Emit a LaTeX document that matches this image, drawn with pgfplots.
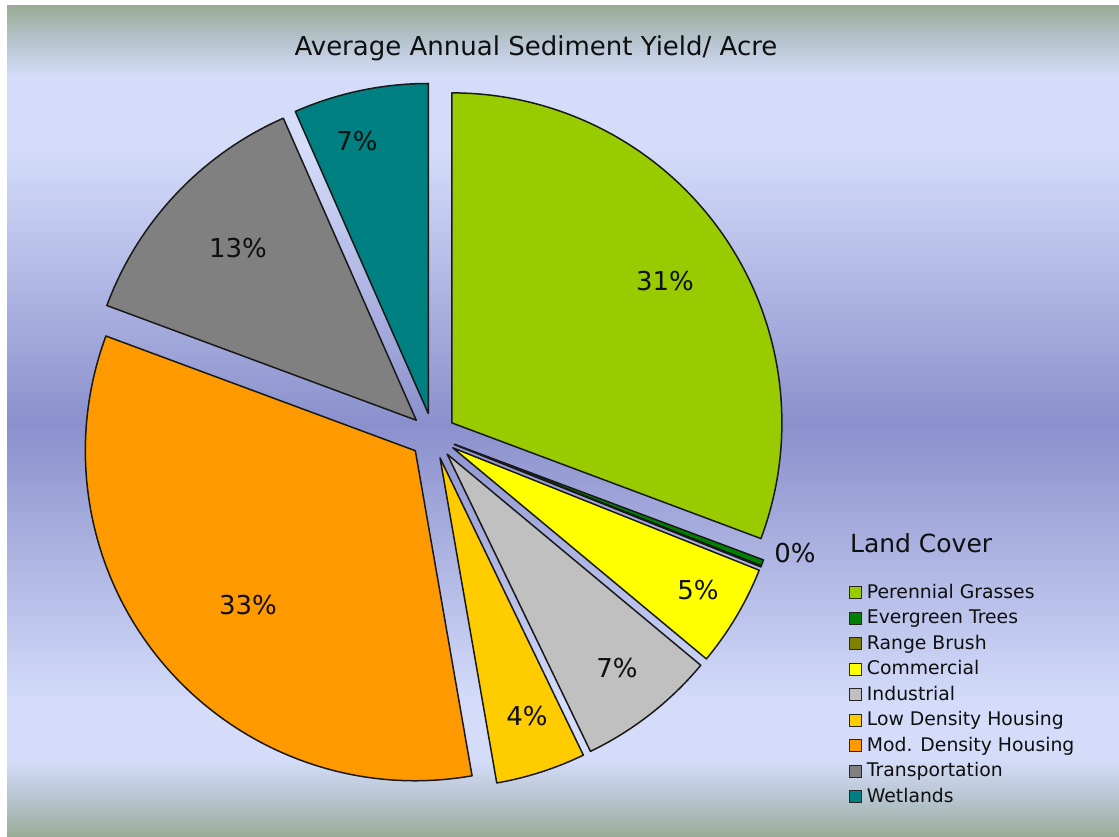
\documentclass[border=0pt]{standalone}
\usepackage{pgfplots}
\pgfplotsset{compat=1.18}
\usepackage{pgfplotstable}
\usepackage{fontspec}
\setmainfont{DejaVu Sans}

% slice colours, in the order of the table
\definecolor{slice0}{RGB}{153,204,0}   % Perennial Grasses
\definecolor{slice1}{RGB}{0,128,0}     % Evergreen Trees
\definecolor{slice2}{RGB}{128,128,0}   % Range Brush
\definecolor{slice3}{RGB}{255,255,0}   % Commercial
\definecolor{slice4}{RGB}{192,192,192} % Industrial
\definecolor{slice5}{RGB}{255,204,0}   % Low Density Housing
\definecolor{slice6}{RGB}{255,153,0}   % Mod. Density Housing
\definecolor{slice7}{RGB}{128,128,128} % Transportation
\definecolor{slice8}{RGB}{0,128,128}   % Wetlands
\definecolor{bggg}{RGB}{154,172,150}
\definecolor{bgmix}{RGB}{182,196,206}
\definecolor{bglight}{RGB}{212,220,250}
\definecolor{bgdark}{RGB}{138,144,204}
\definecolor{txt}{RGB}{15,15,15}

\pgfdeclareverticalshading{chartbg}{100bp}{color(0bp)=(bggg); color(25bp)=(bggg);
  color(27.2bp)=(bgmix); color(29.6bp)=(bglight); color(33bp)=(bglight);
  color(49.8bp)=(bgdark); color(66.3bp)=(bglight); color(70.8bp)=(bglight);
  color(72.9bp)=(bgmix); color(75bp)=(bggg); color(100bp)=(bggg)}

% share in percent, label position (pixels, from top left), label shown
\pgfplotstableread{
value lx ly show
30.7  665 281 1
0.3   795 553 1
0.05  0   0   0
5.0   698 590 1
6.8   617 668 1
4.4   527 716 1
33.4  248 605 1
12.75 238 248 1
6.6   357 141 1
}\pietable

\begin{document}
\begin{tikzpicture}
% angles and exploded apex of every slice, clockwise from 12 o'clock
\def\astart{90}
\pgfplotsforeachungrouped \i in {0,...,8}{%
  \pgfplotstablegetelem{\i}{value}\of\pietable \let\v\pgfplotsretval
  \pgfmathsetmacro\aend{\astart-3.6*\v}%
  \pgfmathsetmacro\amid{(\astart+\aend)/2}%
  \pgfmathsetmacro\ax{433+23*cos(\amid)}%
  \pgfmathsetmacro\ay{400+23*sin(\amid)}%
  \pgfmathtruncatemacro\pct{round(\v)}%
  \expandafter\xdef\csname pieS\i\endcsname{\astart}%
  \expandafter\xdef\csname pieE\i\endcsname{\aend}%
  \expandafter\xdef\csname pieX\i\endcsname{\ax}%
  \expandafter\xdef\csname pieY\i\endcsname{\ay}%
  \expandafter\xdef\csname pieP\i\endcsname{\pct}%
  \pgfplotstablegetelem{\i}{lx}\of\pietable
  \expandafter\xdef\csname pieLX\i\endcsname{\pgfplotsretval}%
  \pgfplotstablegetelem{\i}{ly}\of\pietable
  \pgfmathsetmacro\ly{836-\pgfplotsretval}%
  \expandafter\xdef\csname pieLY\i\endcsname{\ly}%
  \global\let\astart\aend
}
\begin{axis}[width=559.5pt, height=418pt, scale only axis,
  xmin=0, xmax=1119, ymin=0, ymax=836, axis lines=none, clip=false,
  legend image code/.code={\path[draw=none, fill=none] (0pt,-3pt) rectangle (8.5pt,3pt);
    \filldraw[#1, draw=black!85, line width=0.5pt] (0pt,-3pt) rectangle (6pt,3pt);},
  legend style={at={(0.7587,0.3067)}, anchor=north west, draw=none, fill=none,
    inner sep=0pt, row sep=0pt, text=txt,
    font=\fontsize{9.4}{11}\selectfont, cells={anchor=west},
    nodes={inner sep=0pt, minimum height=12.75pt}}]
\fill[white] (axis cs:0,0) rectangle (axis cs:1119,836);
\fill[shading=chartbg] (axis cs:7,0) rectangle (axis cs:1119,830);
\pgfplotsinvokeforeach{0,...,8}{%
  \filldraw[fill=slice#1, draw=black!90, line width=0.75pt, line join=round]
    (axis cs:\csname pieX#1\endcsname,\csname pieY#1\endcsname)
    -- ++(\csname pieS#1\endcsname:165pt)
    arc[start angle=\csname pieS#1\endcsname, end angle=\csname pieE#1\endcsname, radius=165pt]
    -- cycle;
}
\pgfplotsinvokeforeach{0,1,3,4,5,6,7,8}{%
  \node[font=\fontsize{13}{15}\selectfont, text=txt]
    at (axis cs:\csname pieLX#1\endcsname,\csname pieLY#1\endcsname) {\csname pieP#1\endcsname\%};
}
\node[font=\fontsize{13}{15}\selectfont, text=txt] at (axis cs:536,788) {Average Annual Sediment Yield/ Acre};
\node[font=\fontsize{12.5}{14}\selectfont, text=txt, anchor=west] at (axis cs:843,293) {Land Cover};
\addlegendimage{fill=slice0}\addlegendentry{Perennial Grasses}
\addlegendimage{fill=slice1}\addlegendentry{Evergreen Trees}
\addlegendimage{fill=slice2}\addlegendentry{Range Brush}
\addlegendimage{fill=slice3}\addlegendentry{Commercial}
\addlegendimage{fill=slice4}\addlegendentry{Industrial}
\addlegendimage{fill=slice5}\addlegendentry{Low Density Housing}
\addlegendimage{fill=slice6}\addlegendentry{Mod. Density Housing}
\addlegendimage{fill=slice7}\addlegendentry{Transportation}
\addlegendimage{fill=slice8}\addlegendentry{Wetlands}
\end{axis}
\end{tikzpicture}
\end{document}
